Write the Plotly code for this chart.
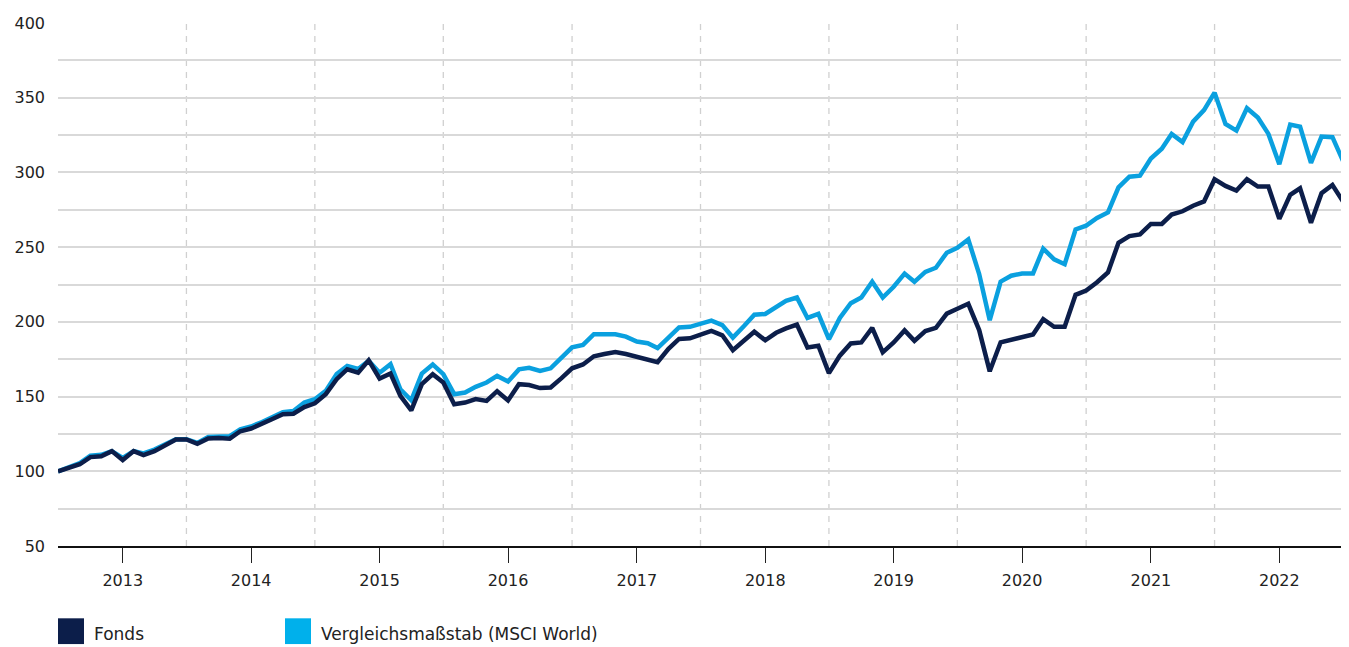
import pandas as pd
import plotly.graph_objects as go

# ---- data (monthly index values, start = 100) ----
start_month = "2012-07-01"
fonds = [100, 102, 104.7, 109.5, 110, 113.5, 107.5, 113.5, 110.9, 113.5,
         117.5, 121.3, 121.3, 118.4, 121.9, 122.3, 121.8, 126.8, 128.6, 131.6,
         134.8, 138.2, 138.5, 143, 145.5, 151.6, 161.6, 168.3, 166, 174.3,
         162, 165.4, 150.4, 140.8, 158.3, 165, 159.4, 144.9, 146, 148.3,
         147.1, 153.6, 147.4, 158.3, 157.7, 155.7, 156.1, 162.3, 168.9, 171.5,
         177, 178.5, 179.8, 178.5, 176.5, 175.2, 173, 182, 188.6, 189,
         191.7, 193.9, 191, 181.1, 187.3, 193.4, 187.7, 192.7, 195.6, 198.2,
         182.9, 184, 165.7, 177.4, 185.5, 186.2, 196, 179.6, 186.2, 194.3,
         187.3, 193.8, 196, 205.5, 208.8, 212.1, 194.5, 166.9, 186.3, 187.9,
         189.4, 191.6, 201.8, 196.7, 196.7, 218.1, 221, 226.5, 233.1, 252.9,
         257.4, 258.5, 265.5, 265.5, 271.8, 274, 277.7, 280.6, 295.4, 291,
         287.9, 295.4, 290.5, 290.5, 268.9, 285, 289.4, 266.3, 286.1, 291.6,
         280.6]
benchmark = [100, 102.5, 105.5, 110.5, 111, 113.5, 109, 113.5, 112, 114.5,
             118, 121.5, 121.5, 119, 123, 123, 123.5, 128, 130, 133,
             136.4, 139.5, 140.4, 146, 148.2, 153.8, 165, 170.5, 168.5, 174,
             166, 171.7, 154.9, 147.5, 165.4, 171.5, 165, 151.6, 152.7, 156.5,
             159.4, 163.8, 160.1, 168.2, 169.3, 167.1, 168.9, 176.3, 182.9, 184.6,
             191.7, 191.7, 191.7, 190.1, 186.8, 185.7, 182.5, 189.5, 196.3, 196.7,
             198.5, 200.8, 197.8, 189.5, 197.1, 204.8, 205.3, 210.3, 214.1, 216.3,
             202.6, 205.3, 188.4, 202.6, 212.5, 216.3, 226.8, 216.3, 223.5, 232.3,
             226.8, 233.4, 236.2, 246.3, 249.6, 255.2, 232, 201.1, 226.9, 230.9,
             232.4, 232.4, 249, 241.9, 238.6, 261.8, 264.4, 269.5, 273.2, 290,
             297.1, 297.8, 309.3, 315.9, 325.8, 320.3, 334, 341.7, 353.4, 332.4,
             328, 343, 336.8, 325.8, 305.5, 332, 330.6, 306.4, 324, 323.6,
             307.7]
dates = pd.date_range(start_month, periods=len(fonds), freq="MS")

year_labels = ["2013", "2014", "2015", "2016", "2017", "2018", "2019", "2020", "2021", "2022"]
year_ticks = [f"{y}-01-01" for y in year_labels]
half_year_lines = [f"{y}-07-01" for y in year_labels[:-1]]
y_ticks = [50, 75, 100, 125, 150, 175, 200, 225, 250, 275, 300, 325, 350, 375, 400]
y_ticktext = ["50", "", "100", "", "150", "", "200", "", "250", "", "300", "", "350", "", "400"]
series_names = ["Fonds", "Vergleichsmaßstab (MSCI World)"]

# ---- styles ----
DARK = "#0c1e4a"
LIGHT = "#0aa0df"
LEG_DARK = "#0c1e4a"
LEG_LIGHT = "#00b0eb"
FONT = "DejaVu Sans"
TXT = "#222222"

fig = go.Figure()
fig.add_trace(go.Scatter(x=dates, y=benchmark, mode="lines", name=series_names[1],
                         line=dict(color=LIGHT, width=4.5), showlegend=False))
fig.add_trace(go.Scatter(x=dates, y=fonds, mode="lines", name=series_names[0],
                         line=dict(color=DARK, width=4.5), showlegend=False))

shapes = []
for d in half_year_lines:
    shapes.append(dict(type="line", xref="x", yref="paper", x0=d, x1=d, y0=0, y1=1,
                       line=dict(color="#d0d0d0", width=1.3, dash="6px,6px"), layer="below"))
shapes.append(dict(type="line", xref="paper", yref="y", x0=0, x1=1, y0=100, y1=100,
                   line=dict(color="#000000", width=1.6), layer="below"))

# legend squares (plot area is 1285 x 528 px; page coords: left 58, bottom 546)
PW, PH = 1285.0, 528.0
def px_x(px):
    return (px - 58) / PW
def px_y(py):
    return (546 - py) / PH

leg = [(58, LEG_DARK, 92, series_names[0]), (285, LEG_LIGHT, 319, series_names[1])]
annotations = []
for sx, col, tx, name in leg:
    shapes.append(dict(type="rect", xref="paper", yref="paper",
                       x0=px_x(sx), x1=px_x(sx + 26), y0=px_y(619), y1=px_y(645),
                       fillcolor=col, line=dict(width=0)))
    annotations.append(dict(text=name, xref="paper", yref="paper", x=px_x(tx), y=px_y(635),
                            xanchor="left", yanchor="middle", showarrow=False,
                            font=dict(family=FONT, size=17, color=TXT)))

fig.update_layout(
    width=1341, height=639,
    margin=dict(l=50, r=6, t=10, b=101),
    paper_bgcolor="white", plot_bgcolor="white",
    font=dict(family=FONT, size=16, color=TXT),
    shapes=shapes, annotations=annotations,
    xaxis=dict(type="date", range=[dates[0], dates[-1]],
               tickvals=year_ticks, ticktext=year_labels,
               ticks="outside", ticklen=15, tickwidth=1.3, tickcolor=TXT,
               showgrid=False, zeroline=False,
               showline=True, linecolor="#111111", linewidth=1.6,
               tickfont=dict(family=FONT, size=16, color=TXT),
               ticklabelstandoff=4),
    yaxis=dict(range=[50, 400], tickvals=y_ticks, ticktext=y_ticktext,
               showgrid=True, gridcolor="#d9d9d9", gridwidth=1.5,
               zeroline=False, showline=False, ticks="",
               tickfont=dict(family=FONT, size=16, color=TXT),
               ticklabelstandoff=12),
    showlegend=False,
)

fig.write_html("out.html")
